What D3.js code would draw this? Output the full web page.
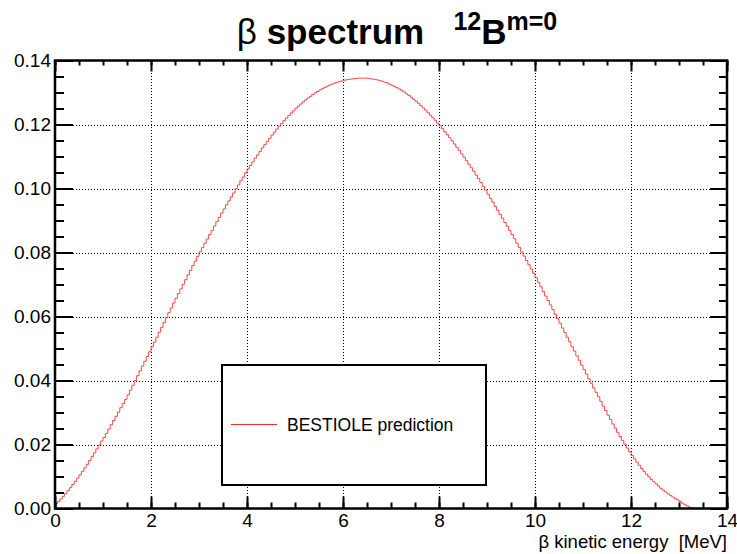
<!DOCTYPE html>
<html><head><meta charset="utf-8">
<script src="https://cdn.jsdelivr.net/npm/d3@7"></script>
<style>
body{margin:0;background:#fff}
svg{display:block}
text{font-family:"Liberation Sans",Arial,Helvetica,sans-serif;fill:#000}
</style>
</head><body>
<svg id="c" width="737" height="554"></svg>
<script>
// ---------------- data ----------------
const xDomain = [0, 14];
const yDomain = [0, 0.14];
const binWidth = 0.05;          // MeV per histogram bin (280 bins, 0-14 MeV)
const spectrum = [
  0.0014,0.0022,0.0030,0.0038,0.0047,0.0056,0.0065,0.0075,0.0085,0.0095,
  0.0105,0.0116,0.0127,0.0138,0.0150,0.0162,0.0174,0.0186,0.0198,0.0211,
  0.0222,0.0235,0.0248,0.0262,0.0275,0.0288,0.0301,0.0315,0.0328,0.0341,
  0.0355,0.0370,0.0385,0.0400,0.0415,0.0430,0.0445,0.0460,0.0475,0.0490,
  0.0505,0.0520,0.0535,0.0551,0.0566,0.0581,0.0596,0.0612,0.0627,0.0642,
  0.0657,0.0672,0.0686,0.0701,0.0715,0.0730,0.0744,0.0759,0.0773,0.0788,
  0.0802,0.0815,0.0829,0.0842,0.0856,0.0869,0.0883,0.0896,0.0910,0.0923,
  0.0936,0.0949,0.0961,0.0974,0.0986,0.0999,0.1011,0.1024,0.1036,0.1049,
  0.1061,0.1072,0.1083,0.1095,0.1105,0.1116,0.1127,0.1137,0.1147,0.1157,
  0.1167,0.1176,0.1186,0.1195,0.1203,0.1212,0.1220,0.1228,0.1236,0.1243,
  0.1251,0.1258,0.1264,0.1271,0.1277,0.1283,0.1288,0.1294,0.1299,0.1303,
  0.1308,0.1312,0.1316,0.1320,0.1323,0.1326,0.1329,0.1332,0.1334,0.1336,
  0.1338,0.1340,0.1341,0.1342,0.1343,0.1344,0.1345,0.1345,0.1345,0.1345,
  0.1344,0.1343,0.1342,0.1341,0.1339,0.1337,0.1335,0.1332,0.1330,0.1326,
  0.1323,0.1319,0.1315,0.1311,0.1307,0.1302,0.1296,0.1291,0.1285,0.1279,
  0.1273,0.1266,0.1259,0.1252,0.1245,0.1237,0.1229,0.1221,0.1213,0.1204,
  0.1196,0.1187,0.1177,0.1168,0.1159,0.1149,0.1139,0.1129,0.1119,0.1108,
  0.1098,0.1087,0.1076,0.1065,0.1054,0.1042,0.1031,0.1019,0.1007,0.0995,
  0.0982,0.0969,0.0957,0.0944,0.0932,0.0919,0.0907,0.0894,0.0882,0.0869,
  0.0856,0.0843,0.0829,0.0816,0.0802,0.0789,0.0775,0.0762,0.0748,0.0735,
  0.0721,0.0707,0.0693,0.0678,0.0664,0.0650,0.0636,0.0622,0.0607,0.0593,
  0.0579,0.0564,0.0550,0.0535,0.0521,0.0506,0.0492,0.0477,0.0463,0.0448,
  0.0434,0.0420,0.0405,0.0391,0.0377,0.0363,0.0349,0.0335,0.0320,0.0306,
  0.0292,0.0278,0.0264,0.0251,0.0238,0.0225,0.0213,0.0201,0.0189,0.0177,
  0.0166,0.0155,0.0145,0.0135,0.0125,0.0116,0.0107,0.0099,0.0091,0.0084,
  0.0077,0.0070,0.0063,0.0057,0.0052,0.0046,0.0041,0.0036,0.0031,0.0027,
  0.0022,0.0017,0.0012,0.0008,0.0004,0.0001,0,0,0,0,
  0,0,0,0,0,0,0,0,0,0
];
const xMajorTicks = [0, 2, 4, 6, 8, 10, 12, 14];
const xMinorTicks = d3.range(0, 14.001, 0.5);
const yMajorTicks = [0, 0.02, 0.04, 0.06, 0.08, 0.10, 0.12, 0.14];
const yMinorTicks = d3.range(0, 0.14001, 0.005);
const yTickLabels = ["0.00","0.02","0.04","0.06","0.08","0.10","0.12","0.14"];
const xTickLabels = ["0","2","4","6","8","10","12","14"];
const legendLabel = "BESTIOLE prediction";
const xTitle = "\u03b2 kinetic energy  [MeV]";

// ---------------- layout ----------------
const L = 55, R = 727, T = 60.5, B = 508.5;
const svg = d3.select("#c");
const x = d3.scaleLinear().domain(xDomain).range([L, R]);
const y = d3.scaleLinear().domain(yDomain).range([B, T]);

svg.append("defs").append("clipPath").attr("id","plotclip")
  .append("rect").attr("x",L).attr("y",T).attr("width",R-L).attr("height",B-T);

// grid
const grid = svg.append("g").attr("stroke","#000").attr("stroke-width",1)
  .attr("stroke-dasharray","1,2").attr("shape-rendering","crispEdges");
xMajorTicks.slice(1,-1).forEach(v=>{
  grid.append("line").attr("x1",Math.round(x(v))+0.5).attr("x2",Math.round(x(v))+0.5)
    .attr("y1",T).attr("y2",B);
});
yMajorTicks.slice(1,-1).forEach(v=>{
  grid.append("line").attr("y1",Math.round(y(v))+0.5).attr("y2",Math.round(y(v))+0.5)
    .attr("x1",L).attr("x2",R);
});

// histogram
const pts = spectrum.map((v,i)=>[i*binWidth, v]);
pts.push([spectrum.length*binWidth, spectrum[spectrum.length-1]]);
const line = d3.line().x(d=>x(d[0])).y(d=>y(d[1])).curve(d3.curveStepAfter);
svg.append("path").attr("d", line(pts)).attr("fill","none")
  .attr("stroke","#ff2a2a").attr("stroke-width",1).attr("stroke-opacity",0.85)
  .attr("clip-path","url(#plotclip)");

// axes
function styleAxis(fs){
  return g=>{
    g.select(".domain").remove();
    g.selectAll(".tick line").attr("stroke","#000").attr("stroke-width",2);
    g.selectAll(".tick text").style("font-size",fs);
  };
}
const fmtX = d=>xTickLabels[xMajorTicks.indexOf(d)];
const fmtY = d=>yTickLabels[yMajorTicks.findIndex(t=>Math.abs(t-d)<1e-9)];

svg.append("g").attr("transform",`translate(0,${B})`)
  .call(d3.axisBottom(x).tickValues(xMinorTicks).tickSizeInner(-6).tickSizeOuter(0).tickFormat(""))
  .call(styleAxis("19px"));
svg.append("g").attr("transform",`translate(0,${B})`)
  .call(d3.axisBottom(x).tickValues(xMajorTicks).tickSizeInner(-12).tickSizeOuter(0).tickPadding(5).tickFormat(fmtX))
  .call(styleAxis("19px"));
svg.append("g").attr("transform",`translate(0,${T})`)
  .call(d3.axisTop(x).tickValues(xMinorTicks).tickSizeInner(-5).tickSizeOuter(0).tickFormat(""))
  .call(styleAxis("19px"));
svg.append("g").attr("transform",`translate(0,${T})`)
  .call(d3.axisTop(x).tickValues(xMajorTicks).tickSizeInner(-11).tickSizeOuter(0).tickFormat(""))
  .call(styleAxis("19px"));

svg.append("g").attr("transform",`translate(${L},0)`)
  .call(d3.axisLeft(y).tickValues(yMinorTicks).tickSizeInner(-9).tickSizeOuter(0).tickFormat(""))
  .call(styleAxis("19px"));
svg.append("g").attr("transform",`translate(${L},0)`)
  .call(d3.axisLeft(y).tickValues(yMajorTicks).tickSizeInner(-18).tickSizeOuter(0).tickPadding(4).tickFormat(fmtY))
  .call(styleAxis("19px"));
svg.append("g").attr("transform",`translate(${R},0)`)
  .call(d3.axisRight(y).tickValues(yMinorTicks).tickSizeInner(-8).tickSizeOuter(0).tickFormat(""))
  .call(styleAxis("19px"));
svg.append("g").attr("transform",`translate(${R},0)`)
  .call(d3.axisRight(y).tickValues(yMajorTicks).tickSizeInner(-17).tickSizeOuter(0).tickFormat(""))
  .call(styleAxis("19px"));

// frame
svg.append("rect").attr("x",L).attr("y",T).attr("width",R-L).attr("height",B-T)
  .attr("fill","none").attr("stroke","#000").attr("stroke-width",2.5);

// legend
const lg = svg.append("g");
lg.append("rect").attr("x",222).attr("y",365).attr("width",264).attr("height",120)
  .attr("fill","#fff").attr("stroke","#000").attr("stroke-width",2);
lg.append("line").attr("x1",231).attr("x2",277).attr("y1",424.5).attr("y2",424.5)
  .attr("stroke","#ff2a2a").attr("stroke-width",1);
lg.append("text").attr("x",287).attr("y",431).style("font-size","17.5px").text(legendLabel);

// axis title
svg.append("text").attr("x",R).attr("y",548).attr("text-anchor","end")
  .style("font-size","18.5px").style("white-space","pre").text(xTitle);

// title
const tt = svg.append("text").attr("x",397).attr("y",44).attr("text-anchor","middle")
  .style("font-size","35px").style("font-weight","bold").style("white-space","pre");
tt.append("tspan").style("font-weight","normal").text("\u03b2");
tt.append("tspan").text(" spectrum   ");
tt.append("tspan").style("font-size","25px").attr("dy",-14).text("12");
tt.append("tspan").attr("dy",14).text("B");
tt.append("tspan").style("font-size","25px").attr("dy",-14).text("m=0");
</script>
</body></html>
